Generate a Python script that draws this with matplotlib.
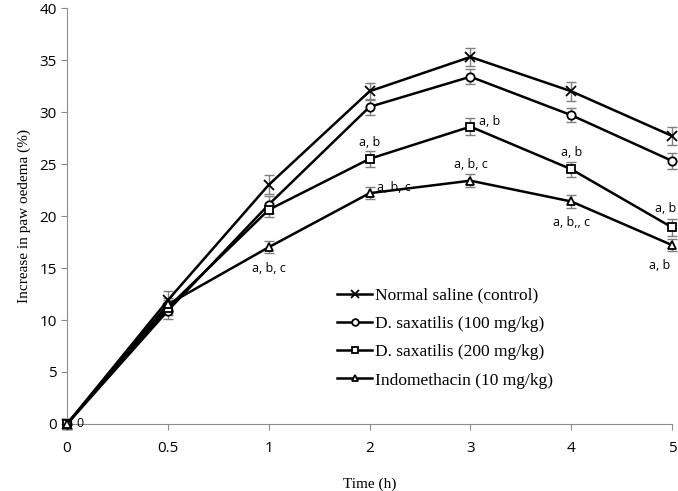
import numpy as np
import matplotlib.pyplot as plt

# time points (h), plotted as equally spaced categories
times = ['0', '0.5', '1', '2', '3', '4', '5']

saline = [0, 11.9, 23.0, 32.0, 35.3, 32.0, 27.7]
saline_err = [0.5, 0.9, 0.9, 0.8, 0.9, 0.9, 0.9]
d100 = [0, 10.9, 21.1, 30.5, 33.4, 29.7, 25.3]
d100_err = [0.5, 0.8, 0.8, 0.8, 0.7, 0.7, 0.8]
d200 = [0, 11.2, 20.6, 25.5, 28.6, 24.5, 18.9]
d200_err = [0.5, 0.7, 0.7, 0.8, 0.8, 0.7, 0.8]
indo = [0, 11.5, 17.0, 22.2, 23.4, 21.4, 17.2]
indo_err = [0.5, 0.6, 0.6, 0.6, 0.6, 0.6, 0.6]

labels = ['Normal saline (control)', 'D. saxatilis (100 mg/kg)',
          'D. saxatilis (200 mg/kg)', 'Indomethacin (10 mg/kg)']

# significance labels: (series, time label, text, dx, dy, ha)
notes = [
    ('d200', '2', 'a, b', 0, 12, 'center'),
    ('d200', '3', 'a, b', 6, 4, 'left'),
    ('d200', '4', 'a, b', 0, 12, 'center'),
    ('d200', '5', 'a, b', -5, 14, 'center'),
    ('indo', '1', 'a, b, c', 0, -15, 'center'),
    ('indo', '2', 'a, b, c', 5, 4, 'left'),
    ('indo', '3', 'a, b, c', 0, 12, 'center'),
    ('indo', '4', 'a, b,, c', 0, -15, 'center'),
    ('indo', '5', 'a, b', -9, -15, 'center'),
]

series = {'saline': (saline, saline_err, 'x'),
          'd100': (d100, d100_err, 'o'),
          'd200': (d200, d200_err, 's'),
          'indo': (indo, indo_err, '^')}

fig = plt.figure(figsize=(6.78, 4.91), dpi=100)
ax = fig.add_axes([0.0988, 0.1365, 0.8926, 0.847])
x = np.arange(len(times))

for (key, (vals, err, m)), lab in zip(series.items(), labels):
    ax.errorbar(x, vals, yerr=err, fmt='none', ecolor='#7f7f7f', elinewidth=1,
                capsize=3.5, capthick=1, zorder=2, clip_on=False)
    ax.plot(x, vals, color='black', lw=1.8, marker=m, ms=6 if m != 'x' else 7,
            mfc='white' if m != 'x' else 'black', mec='black', mew=1.3,
            label=lab, zorder=3, clip_on=False)

for key, t, txt, dx, dy, ha in notes:
    vals = series[key][0]
    i = times.index(t)
    ax.annotate(txt, (x[i], vals[i]), xytext=(dx, dy), textcoords='offset points',
                ha=ha, va='center', fontsize=9, family='Open Sans')

ax.annotate('0', (0, 0), xytext=(7, 0), textcoords='offset points',
            ha='left', va='center', fontsize=9, family='Open Sans')

ax.set_xlim(0, len(times) - 1)
ax.set_ylim(0, 40)
ax.set_yticks(range(0, 41, 5))
ax.set_xticks(x)
ax.set_xticklabels(times)
for s in ['top', 'right']:
    ax.spines[s].set_visible(False)
for s in ['left', 'bottom']:
    ax.spines[s].set_color('#8c8c8c')
ax.tick_params(colors='#8c8c8c', labelcolor='black', labelsize=11, length=4)
ax.tick_params(axis='x', pad=8)
for t in ax.get_xticklabels() + ax.get_yticklabels():
    t.set_family('Open Sans')

ax.set_xlabel('Time (h)', family='Liberation Serif', fontsize=11, labelpad=16)
ax.set_ylabel('Increase in paw oedema (%)', family='Liberation Serif', fontsize=11, labelpad=6)

leg = ax.legend(loc='upper left', bbox_to_anchor=(0.435, 0.345), frameon=False,
                prop={'family': 'Liberation Serif', 'size': 12.5}, handlelength=2.0,
                handletextpad=0.15, labelspacing=0.7, borderaxespad=0, markerscale=0.8)

fig.savefig('out.png', dpi=100)
